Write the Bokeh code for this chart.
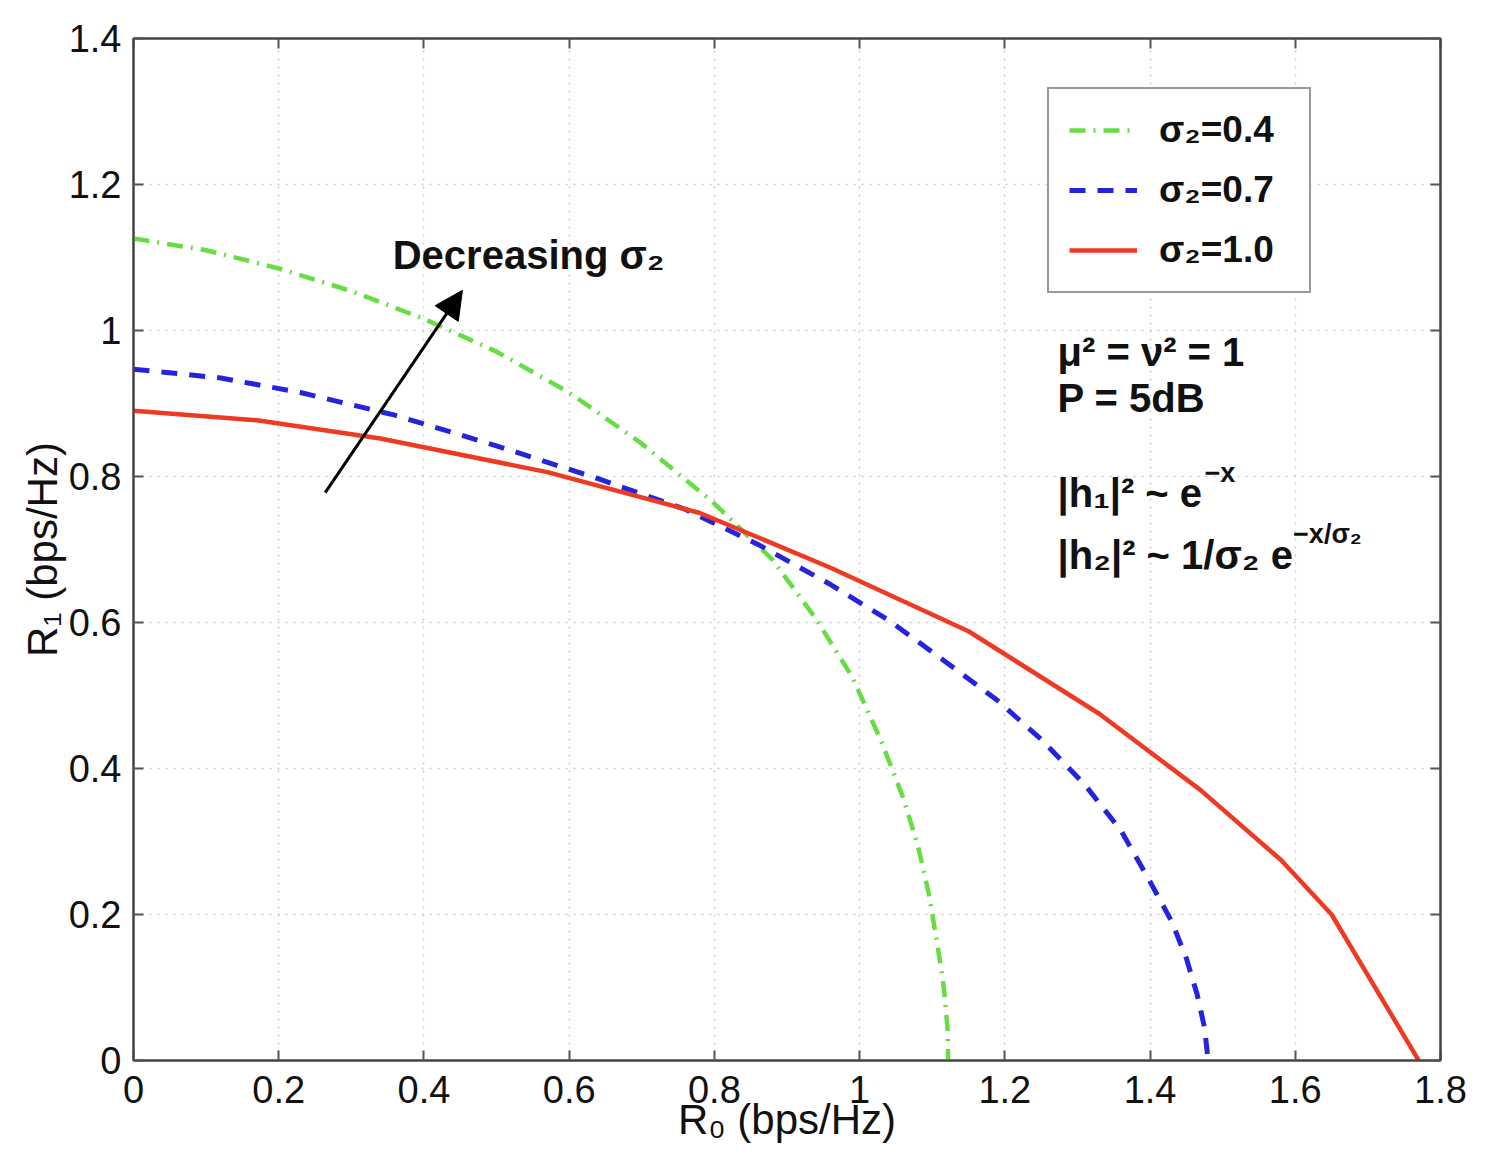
from bokeh.plotting import figure
from bokeh.models import (Range1d, FixedTicker, LinearAxis, Legend, LegendItem,
                          Label, Arrow, NormalHead)
from bokeh.embed import file_html
from bokeh.resources import INLINE

# ---------------- data ----------------
x_ticks = [0, 0.2, 0.4, 0.6, 0.8, 1.0, 1.2, 1.4, 1.6, 1.8]
x_tick_labels = ["0", "0.2", "0.4", "0.6", "0.8", "1", "1.2", "1.4", "1.6", "1.8"]
y_ticks = [0, 0.2, 0.4, 0.6, 0.8, 1.0, 1.2, 1.4]
y_tick_labels = ["0", "0.2", "0.4", "0.6", "0.8", "1", "1.2", "1.4"]

series_names = ["σ₂=0.4", "σ₂=0.7", "σ₂=1.0"]

green_x = [0, 0.1, 0.2, 0.3, 0.4, 0.5, 0.6, 0.7, 0.8, 0.88, 0.94, 0.99, 1.03,
           1.06, 1.08, 1.095, 1.107, 1.116, 1.121, 1.122]
green_y = [1.126, 1.11, 1.085, 1.054, 1.016, 0.971, 0.915, 0.845, 0.763, 0.686,
           0.605, 0.525, 0.437, 0.36, 0.295, 0.23, 0.16, 0.1, 0.045, 0.0]

blue_x = [0, 0.12, 0.23, 0.36, 0.5, 0.64, 0.76, 0.86, 0.96, 1.04, 1.12, 1.19,
          1.25, 1.31, 1.36, 1.40, 1.43, 1.45, 1.465, 1.475, 1.48]
blue_y = [0.947, 0.935, 0.915, 0.884, 0.842, 0.797, 0.755, 0.707, 0.652, 0.603,
          0.545, 0.493, 0.44, 0.378, 0.315, 0.245, 0.19, 0.14, 0.09, 0.045, 0.0]

red_x = [0, 0.17, 0.34, 0.57, 0.78, 0.96, 1.15, 1.33, 1.47, 1.58, 1.65, 1.77]
red_y = [0.89, 0.877, 0.852, 0.806, 0.75, 0.675, 0.588, 0.475, 0.37, 0.275, 0.2, 0.0]

FONT = "Liberation Sans"

p = figure(width=1496, height=1165, x_range=Range1d(0, 1.8), y_range=Range1d(0, 1.4),
           output_backend="svg", toolbar_location=None,
           min_border_left=133, min_border_right=56, min_border_top=38,
           min_border_bottom=105)
p.background_fill_color = "white"
p.border_fill_color = "white"
p.outline_line_color = "#444444"
p.outline_line_width = 2

xt = FixedTicker(ticks=x_ticks)
yt = FixedTicker(ticks=y_ticks)

for ax, ticks, labels in ((p.xaxis[0], x_ticks, x_tick_labels), (p.yaxis[0], y_ticks, y_tick_labels)):
    ax.ticker = FixedTicker(ticks=ticks)
    ax.major_label_overrides = {t: l for t, l in zip(ticks, labels)}
    ax.major_label_text_font = FONT
    ax.major_label_text_font_size = "38px"
    ax.major_label_text_color = "#111111"
    ax.major_tick_in = 10
    ax.major_tick_out = 0
    ax.minor_tick_in = 0
    ax.minor_tick_out = 0
    ax.major_tick_line_color = "#555555"
    ax.major_tick_line_width = 2
    ax.axis_line_color = "#444444"
    ax.axis_line_width = 2
    ax.major_label_standoff = 12
    ax.axis_label_text_font = FONT
    ax.axis_label_text_font_size = "42px"
    ax.axis_label_text_font_style = "normal"
    ax.axis_label_text_color = "#111111"

p.xaxis[0].major_label_standoff = 15
p.xaxis[0].axis_label = "R₀ (bps/Hz)"
p.yaxis[0].axis_label = "R₁ (bps/Hz)"
p.xaxis[0].axis_label_standoff = -10
p.yaxis[0].axis_label_standoff = 0

for loc, ticks in (("right", y_ticks), ("above", x_ticks)):
    ax = LinearAxis(ticker=FixedTicker(ticks=ticks))
    ax.major_label_overrides = {t: "" for t in ticks}
    ax.major_label_standoff = 0
    ax.major_tick_in = 10
    ax.major_tick_out = 0
    ax.minor_tick_in = 0
    ax.minor_tick_out = 0
    ax.major_tick_line_color = "#555555"
    ax.major_tick_line_width = 2
    ax.axis_line_color = "#444444"
    ax.axis_line_width = 2
    p.add_layout(ax, loc)

p.xgrid.ticker = xt
p.ygrid.ticker = yt
for g in (p.xgrid, p.ygrid):
    g.grid_line_color = "#cccccc"
    g.grid_line_dash = "2 6"
    g.grid_line_width = 1.5

r_green = p.line(green_x, green_y, line_color="#66dd44", line_width=4.5,
                 line_dash="16 8 2 8")
r_blue = p.line(blue_x, blue_y, line_color="#2424dd", line_width=5,
                line_dash="16 12")
r_red = p.line(red_x, red_y, line_color="#ee3a22", line_width=4.5)

legend = Legend(items=[LegendItem(label=series_names[0], renderers=[r_green]),
                       LegendItem(label=series_names[1], renderers=[r_blue]),
                       LegendItem(label=series_names[2], renderers=[r_red])],
                location=(914, 767))
legend.label_text_font = FONT
legend.label_text_font_size = "37px"
legend.label_text_font_style = "bold"
legend.label_text_color = "#111111"
legend.glyph_width = 68
legend.glyph_height = 40
legend.label_height = 40
legend.label_width = 130
legend.label_standoff = 22
legend.padding = 20
legend.spacing = 18
legend.margin = 0
legend.border_line_color = "#333333"
legend.border_line_width = 2
legend.background_fill_color = "white"
legend.background_fill_alpha = 1
p.add_layout(legend)

# annotations
p.add_layout(Arrow(end=NormalHead(size=28, fill_color="black", line_color="black"),
                   x_start=0.264, y_start=0.778, x_end=0.453, y_end=1.055,
                   line_width=3, line_color="black"))


def lab(x, y, text, size, style="bold"):
    p.add_layout(Label(x=x, y=y, text=text, text_font=FONT, text_font_size=size,
                       text_font_style=style, text_color="#111111",
                       text_baseline="alphabetic", text_align="left"))


lab(0.357, 1.103, "Decreasing σ₂", "40px")
lab(1.2726, 0.970, "μ² = ν² = 1", "40px")
lab(1.2726, 0.907, "P = 5dB", "40px")
lab(1.2726, 0.778, "|h₁|² ~ e", "40px")
lab(1.475, 0.805, "−x", "27px")
lab(1.2726, 0.693, "|h₂|² ~ 1/σ₂ e", "40px")
lab(1.597, 0.721, "−x/σ₂", "27px")

open("out.html", "w").write(file_html(p, INLINE))
